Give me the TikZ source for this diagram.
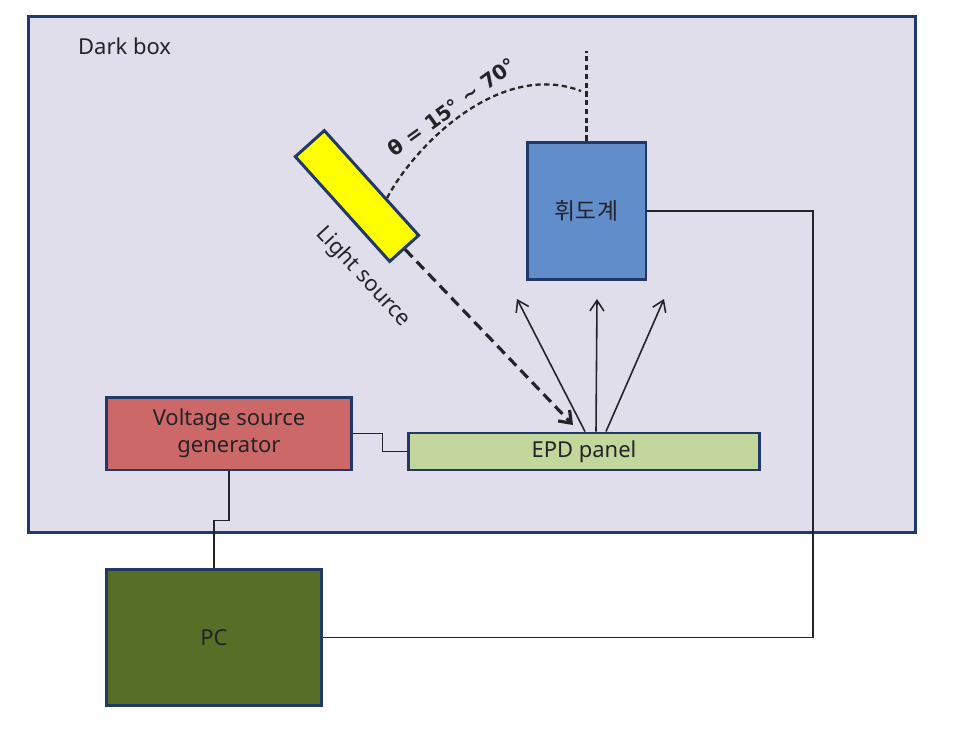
\documentclass[tikz,border=0pt]{standalone}
\usepackage{fontspec}
\setmainfont{Noto Sans}
\newfontfamily\korfont{Noto Sans CJK KR}
\newfontfamily\anglefont{DejaVu Sans}
\usetikzlibrary{calc,arrows.meta}
\definecolor{boxgray}{RGB}{224,222,234}
\definecolor{edgeblue}{RGB}{34,56,104}
\definecolor{lampyellow}{RGB}{255,255,0}
\definecolor{meterblue}{RGB}{98,141,203}
\definecolor{genred}{RGB}{205,104,104}
\definecolor{panelgreen}{RGB}{195,214,155}
\definecolor{pcgreen}{RGB}{86,110,38}
\definecolor{inkgray}{RGB}{35,35,40}
\tikzset{
  unit/.style={draw=edgeblue,line width=1.7pt,inner sep=0pt,text=inkgray,
    font=\fontsize{12.5}{15.5}\selectfont},
  caption/.style={text=inkgray,font=\fontsize{12.5}{15.5}\selectfont},
  wire/.style={line width=0.8pt,inkgray},
  ray/.style={line width=0.9pt,inkgray,-{Straight Barb[length=6pt,width=8pt]}},
  beam/.style={line width=1.8pt,inkgray,dash pattern=on 6pt off 3.5pt,
    -{Straight Barb[length=6pt,width=9pt]}},
  guide/.style={line width=1.3pt,dash pattern=on 3pt off 2pt,gray!30!black}
}

\begin{document}
\begin{tikzpicture}[x=0.02cm,y=-0.02cm]
\useasboundingbox (0,0) rectangle (964,750);
\node[unit,fill=boxgray,minimum width=17.76cm,minimum height=10.34cm] (darkbox) at (472,274.5) {};
\node[caption,anchor=west] (darklabel) at (72,46) {Dark box};
\node[unit,fill=lampyellow,rotate=-48,minimum width=2.82cm,minimum height=0.78cm] (lamp) at (357,196) {};
\node[caption,rotate=-47] (lamplabel) at (363,277) {Light source};
\node[caption,rotate=36,font=\fontsize{11.5}{14}\anglefont\bfseries] (anglabel) at (452,107) {θ = 15° \textasciitilde{} 70°};
\node[unit,fill=meterblue,minimum width=2.38cm,minimum height=2.76cm,font=\fontsize{13}{15}\korfont] (meter) at (586.5,211) {휘도계};
\node[unit,fill=genred,minimum width=4.92cm,minimum height=1.46cm,align=center] (gen) at (229,433.5) {Voltage source\\generator};
\node[unit,fill=panelgreen,minimum width=7.04cm,minimum height=0.74cm] (epd) at (584,451.5) {EPD panel};
\node[unit,fill=pcgreen,minimum width=4.32cm,minimum height=2.74cm] (pc) at (214,637.5) {PC};
\coordinate (corner) at (813,637.5);
\coordinate (hit) at (573,425);
\draw[wire] (gen.east) -- ++(29,0) |- (epd.west);
\draw[wire] (gen.south) -- ++(0,49) -| (pc.north);
\draw[wire] (meter.east) -| (corner) -- (pc.east);
\draw[guide] (meter.north) -- ++(0,-90);
\draw[guide] ($(lamp.north)!0.3!(lamp.north east)$) .. controls (415,145) and (500,60) .. (581,91);
\draw[beam] (lamp.east) -- (hit);
\foreach \s/\t [count=\i] in {1/517,12/597,22/664}{
  \coordinate (tip\i) at (\t,299);
  \draw[ray] ($(epd.north)+(\s,0)$) -- (tip\i);
}
\end{tikzpicture}
\end{document}
